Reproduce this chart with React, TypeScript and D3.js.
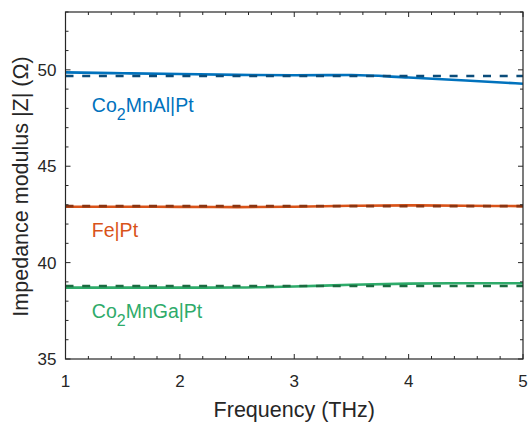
import { useEffect, useRef } from 'react'
import * as d3 from 'd3'

// frequency samples (THz)
const freq = [1, 1.5, 2, 2.5, 3, 3.5, 4, 4.5, 5]

// measured |Z| (solid) per sample
const alSolid = [49.87, 49.82, 49.78, 49.74, 49.72, 49.73, 49.6, 49.45, 49.28]
const feSolid = [42.9, 42.9, 42.89, 42.88, 42.9, 42.95, 42.97, 42.95, 42.93]
const gaSolid = [38.7, 38.7, 38.7, 38.71, 38.76, 38.85, 38.91, 38.93, 38.93]

// model (dashed) values, flat
const alDashed = [49.68, 49.68]
const feDashed = [42.93, 42.93]
const gaDashed = [38.79, 38.79]
const dashedFreq = [1, 5]

const xTicks = [1, 2, 3, 4, 5]
const yTicks = [35, 40, 45, 50]

const FONT = 'Liberation Sans, Arial, sans-serif'
const AXIS = '#262626'

export default function App() {
  const svgRef = useRef<SVGSVGElement>(null)

  useEffect(() => {
    if (!svgRef.current) return
    const width = 530
    const height = 425
    const margin = { top: 12, right: 7, bottom: 66, left: 65.5 }
    const innerWidth = width - margin.left - margin.right
    const innerHeight = height - margin.top - margin.bottom

    const svg = d3.select(svgRef.current)
    svg.selectAll('*').remove()
    svg.attr('width', width).attr('height', height)

    const g = svg.append('g').attr('transform', `translate(${margin.left},${margin.top})`)

    const x = d3.scaleLinear().domain([1, 5]).range([0, innerWidth])
    const y = d3.scaleLinear().domain([35, 53]).range([innerHeight, 0])

    const line = d3.line<[number, number]>()
      .x(d => x(d[0]))
      .y(d => y(d[1]))
      .curve(d3.curveMonotoneX)

    const series = [
      { solid: alSolid, dashed: alDashed, color: '#0072BD', dark: '#0B4C7A' },
      { solid: feSolid, dashed: feDashed, color: '#D95319', dark: '#8A3512' },
      { solid: gaSolid, dashed: gaDashed, color: '#2EAB6A', dark: '#1B6B40' },
    ]

    series.forEach(s => {
      g.append('path')
        .datum(freq.map((f, i) => [f, s.solid[i]] as [number, number]))
        .attr('d', line)
        .attr('fill', 'none')
        .attr('stroke', s.color)
        .attr('stroke-width', 2.6)
      g.append('path')
        .datum(dashedFreq.map((f, i) => [f, s.dashed[i]] as [number, number]))
        .attr('d', line)
        .attr('fill', 'none')
        .attr('stroke', s.dark)
        .attr('stroke-width', 2.6)
        .attr('stroke-dasharray', '8,8.7')
    })

    // box
    g.append('rect')
      .attr('width', innerWidth)
      .attr('height', innerHeight)
      .attr('fill', 'none')
      .attr('stroke', AXIS)
      .attr('stroke-width', 1.2)

    // ticks inward on all four sides
    const xMinor = d3.range(1, 5.001, 0.2)
    const yMinor = d3.range(35, 53.001, 1)
    const tickG = g.append('g').attr('stroke', AXIS).attr('stroke-width', 1)
    xMinor.forEach(v => {
      const major = xTicks.some(t => Math.abs(t - v) < 1e-6)
      const len = major ? 5 : 3
      tickG.append('line').attr('x1', x(v)).attr('x2', x(v)).attr('y1', innerHeight).attr('y2', innerHeight - len)
      tickG.append('line').attr('x1', x(v)).attr('x2', x(v)).attr('y1', 0).attr('y2', len)
    })
    yMinor.forEach(v => {
      const major = yTicks.includes(v)
      const len = major ? 5 : 3
      tickG.append('line').attr('x1', 0).attr('x2', len).attr('y1', y(v)).attr('y2', y(v))
      tickG.append('line').attr('x1', innerWidth).attr('x2', innerWidth - len).attr('y1', y(v)).attr('y2', y(v))
    })

    // tick labels
    g.selectAll('.xt')
      .data(xTicks)
      .enter()
      .append('text')
      .attr('x', d => x(d))
      .attr('y', innerHeight + 28)
      .attr('text-anchor', 'middle')
      .attr('font-family', FONT)
      .attr('font-size', 17)
      .attr('fill', AXIS)
      .text(d => d)

    g.selectAll('.yt')
      .data(yTicks)
      .enter()
      .append('text')
      .attr('x', -9)
      .attr('y', d => y(d) + 6)
      .attr('text-anchor', 'end')
      .attr('font-family', FONT)
      .attr('font-size', 17)
      .attr('fill', AXIS)
      .text(d => d)

    // axis titles
    g.append('text')
      .attr('x', innerWidth / 2)
      .attr('y', innerHeight + 58)
      .attr('text-anchor', 'middle')
      .attr('font-family', FONT)
      .attr('font-size', 21.5)
      .attr('fill', AXIS)
      .text('Frequency (THz)')

    g.append('text')
      .attr('transform', `translate(${-37.5},${innerHeight / 2 + 1}) rotate(-90)`)
      .attr('text-anchor', 'middle')
      .attr('font-family', FONT)
      .attr('font-size', 21.5)
      .attr('fill', AXIS)
      .text('Impedance modulus |Z| (Ω)')

    // series labels, "2" dropped as a subscript
    const label = (yv: number, color: string, parts: [string, boolean][]) => {
      const t = g.append('text')
        .attr('x', x(1.23))
        .attr('y', y(yv))
        .attr('font-family', FONT)
        .attr('font-size', 19.5)
        .attr('fill', color)
      let prevSub = false
      parts.forEach(([s, sub]) => {
        const dy = sub ? 8 : prevSub ? -8 : 0
        t.append('tspan')
          .attr('dy', dy)
          .attr('font-size', sub ? 16 : 19.5)
          .text(s)
        prevSub = sub
      })
    }
    label(47.8, '#0072BD', [['Co', false], ['2', true], ['MnAl|Pt', false]])
    label(41.34, '#D95319', [['Fe|Pt', false]])
    label(37.13, '#2EAB6A', [['Co', false], ['2', true], ['MnGa|Pt', false]])
  }, [])

  return (
    <div style={{ width: 530, height: 425, position: 'absolute', left: 0, top: 0, background: '#fff' }}>
      <svg ref={svgRef} />
    </div>
  )
}
